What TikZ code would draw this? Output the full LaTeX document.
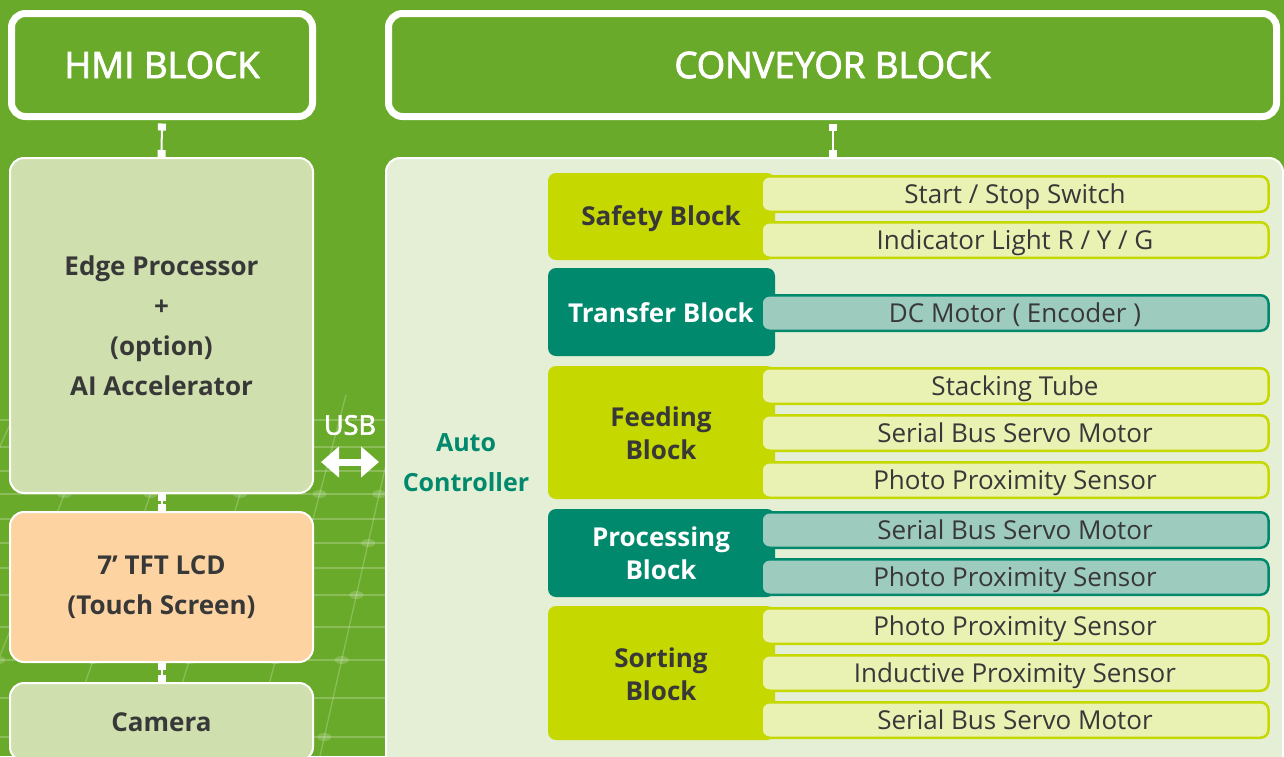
\documentclass[tikz,border=0pt]{standalone}
\usepackage{fontspec}
\setmainfont{Open Sans}
\newfontfamily\medfont[FakeBold=2.4]{Open Sans}
\usetikzlibrary{arrows.meta}
\definecolor{bggreen}{HTML}{6AAA2A}
\definecolor{lightbox}{HTML}{CFE0AE}
\definecolor{peach}{HTML}{FCD3A1}
\definecolor{contentbg}{HTML}{E5EFD6}
\definecolor{yblk}{HTML}{C5D800}
\definecolor{yitemfill}{HTML}{E9F1B3}
\definecolor{tealblk}{HTML}{00896D}
\definecolor{titemfill}{HTML}{9DCBBD}
\definecolor{textdark}{HTML}{383838}
\begin{document}
\begin{tikzpicture}[x=1pt,y=-1pt,
  titlebox/.style={draw=white, line width=7pt, fill=bggreen, rounded corners=14pt,
    text=white, font=\medfont\fontsize{36.5}{40}\selectfont, inner sep=0pt},
  hmibox/.style={draw=white, line width=2pt, rounded corners=14pt, inner sep=0pt,
    text=textdark, font=\bfseries\fontsize{26}{40}\selectfont, align=center, minimum width=303pt},
  blockbox/.style={rounded corners=8pt, inner sep=0pt, minimum width=227pt},
  yblock/.style={blockbox, fill=yblk},
  tblock/.style={blockbox, fill=tealblk},
  blabel/.style={font=\bfseries\fontsize{26}{33}\selectfont, align=center, inner sep=0pt},
  itembox/.style={line width=2.5pt, rounded corners=8pt, inner sep=0pt,
    minimum width=507pt, minimum height=35.5pt, text=textdark,
    text height=18pt, text depth=0pt,
    font=\fontsize{26}{30}\selectfont},
  yitem/.style={itembox, draw=yblk, fill=yitemfill},
  titem/.style={itembox, draw=tealblk, fill=titemfill},
  conn/.style={draw=white, line width=2pt,
    {Square[length=7pt,width=8pt]}-{Square[length=7pt,width=8pt]}},
  gridline/.style={draw=white, opacity=0.22, line width=1.3pt}
]
\useasboundingbox (0,0) rectangle (1284,756);
\clip (0,0) rectangle (1284,756);
\fill[bggreen] (0,0) rectangle (1284,756);

% decorative grid
\begin{scope}
\clip (0,395) rectangle (386,756);
\foreach \yy in {420,447,471,494,519,543,568,595,627,660,698,737}
  \draw[gridline] (0,\yy) -- (386,\yy);
\foreach \xx/\dx in {-140/170,-40/150,60/130,160/115,250/100,320/85}
  \draw[gridline] (\xx,756) -- (\xx+\dx,380);
\foreach \xx/\dx in {-140/170,-40/150,60/130,160/115,250/100,320/85}
  \foreach \yy in {494,543,595,660,737}
    \fill[white, opacity=0.18] ({\xx+\dx/376*(756-\yy)},\yy) ellipse (7pt and 4pt);
\end{scope}

% HMI side
\node[titlebox, minimum width=301pt, minimum height=103pt] (hmi) at (162,65) {HMI BLOCK};
\node[hmibox, fill=lightbox, minimum height=335pt] (edge) at (161.5,325.5)
  {Edge Processor\\+\\(option)\\AI Accelerator};
\node[hmibox, fill=peach, minimum height=150pt] (lcd) at (161.5,587)
  {7\char"2019\ TFT LCD\\(Touch Screen)};
\node[hmibox, fill=lightbox, minimum height=78pt] (cam) at (161.5,722) {Camera};

\draw[conn, shorten <=3.5pt] (hmi.south) -- (edge.north);
\draw[conn] (edge.south) -- (lcd.north);
\draw[conn] (lcd.south) -- (cam.north);

% USB
\node[text=white, font=\medfont\fontsize{27}{30}\selectfont] (usb) at (350,425) {USB};
\coordinate (usbL) at (321,462);
\coordinate (usbR) at (379,462);
\draw[white, line width=7pt, {Triangle[width=30pt,length=18pt]}-{Triangle[width=30pt,length=18pt]}] (usbL) -- (usbR);

% Conveyor side
\node[titlebox, minimum width=888pt, minimum height=103pt] (conv) at (832.5,65) {CONVEYOR BLOCK};
\node[draw=white, line width=2pt, fill=contentbg, rounded corners=14pt, inner sep=0pt,
  minimum width=897pt, minimum height=612pt] (content) at (834.5,464) {};
\draw[conn, shorten <=3.5pt] (conv.south) -- (content.north -| conv.south);

\node[text=tealblk, font=\bfseries\fontsize{25}{40}\selectfont, align=center] (auto) at (466,463)
  {Auto\\Controller};

% blocks
\node[yblock, minimum height=87pt] (safety) at (661.5,216.5) {};
\node[tblock, minimum height=88pt] (transfer) at (661.5,312) {};
\node[yblock, minimum height=133pt] (feeding) at (661.5,432.5) {};
\node[tblock, minimum height=88pt] (processing) at (661.5,553) {};
\node[yblock, minimum height=134pt] (sorting) at (661.5,673) {};

\node[blabel, text=textdark, text height=19pt, text depth=0pt] (safetyL) at (661,216) {Safety Block};
\node[blabel, text=white, text height=19pt, text depth=0pt] (transferL) at (661,313) {Transfer Block};
\node[blabel, text=textdark] (feedingL) at (661,433.5) {Feeding\\Block};
\node[blabel, text=white] (processingL) at (661,553.5) {Processing\\Block};
\node[blabel, text=textdark] (sortingL) at (661,674) {Sorting\\Block};

% items
\node[yitem] (s1) at (1015,194) {Start / Stop Switch};
\node[yitem] (s2) at (1015,240) {Indicator Light R / Y / G};
\node[titem] (t1) at (1015,313) {DC Motor ( Encoder )};
\node[yitem] (f1) at (1015,386) {Stacking Tube};
\node[yitem] (f2) at (1015,433) {Serial Bus Servo Motor};
\node[yitem] (f3) at (1015,480) {Photo Proximity Sensor};
\node[titem] (p1) at (1015,530) {Serial Bus Servo Motor};
\node[titem] (p2) at (1015,577) {Photo Proximity Sensor};
\node[yitem] (o1) at (1015,626) {Photo Proximity Sensor};
\node[yitem] (o2) at (1015,673) {Inductive Proximity Sensor};
\node[yitem] (o3) at (1015,720) {Serial Bus Servo Motor};
\end{tikzpicture}
\end{document}
